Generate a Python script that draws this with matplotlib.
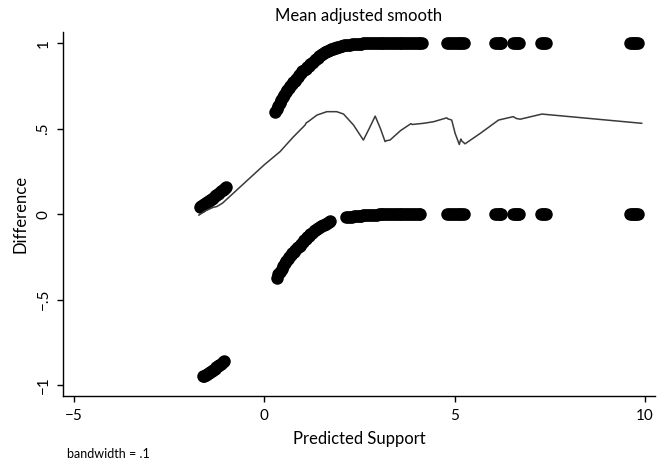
import numpy as np
import matplotlib
matplotlib.use('Agg')
import matplotlib.pyplot as plt

plt.rcParams['font.family'] = ['Lato', 'DejaVu Sans']

# Observaciones con Difference cerca de 1 (curva superior)
x_sup = [0.28, 0.32, 0.36, 0.40, 0.44, 0.48, 0.52, 0.56, 0.60, 0.64,
         0.68, 0.72, 0.76, 0.80, 0.84, 0.88, 0.92, 0.96, 1.00, 1.04,
         1.08, 1.12, 1.16, 1.20, 1.24, 1.28, 1.32, 1.36, 1.40, 1.44,
         1.48, 1.52, 1.56, 1.60, 1.64, 1.68, 1.72, 1.76, 1.80, 1.84,
         1.88, 1.92, 1.96, 2.00, 2.05, 2.10, 2.15, 2.20, 2.25, 2.30,
         2.35, 2.40, 2.45, 2.50, 2.55, 2.60, 2.65, 2.70, 2.75, 2.80,
         2.85, 2.90, 2.95, 3.00, 3.05, 3.10, 3.15, 3.20, 3.25, 3.30,
         3.35, 3.40, 3.45, 3.50, 3.55, 3.60, 3.65, 3.70, 3.75, 3.80,
         3.85, 3.90, 3.95, 4.00, 4.05, 4.10, 4.14,
         4.80, 4.85, 4.90, 4.95, 5.00, 5.05, 5.10, 5.15, 5.20, 5.25,
         6.07, 6.11, 6.15, 6.19, 6.22, 6.54, 6.58, 6.62, 6.66, 6.70,
         7.27, 7.31, 7.35, 7.39, 9.61, 9.65, 9.69, 9.73, 9.77, 9.81]
y_sup = [0.600, 0.617, 0.634, 0.651, 0.668, 0.683, 0.698, 0.713, 0.727, 0.740,
         0.751, 0.762, 0.772, 0.781, 0.790, 0.800, 0.812, 0.824, 0.835, 0.844,
         0.852, 0.860, 0.868, 0.876, 0.884, 0.892, 0.900, 0.908, 0.916, 0.923,
         0.929, 0.935, 0.941, 0.947, 0.952, 0.956, 0.960, 0.964, 0.968, 0.972,
         0.975, 0.978, 0.980, 0.983, 0.986, 0.988, 0.990, 0.991, 0.992, 0.994,
         0.995, 0.996, 0.997, 0.998, 0.998, 0.999, 0.999, 0.999, 1.0, 1.0,
         1.0, 1.0, 1.0, 1.0, 1.0, 1.0, 1.0, 1.0, 1.0, 1.0,
         1.0, 1.0, 1.0, 1.0, 1.0, 1.0, 1.0, 1.0, 1.0, 1.0,
         1.0, 1.0, 1.0, 1.0, 1.0, 1.0, 1.0,
         1.0, 1.0, 1.0, 1.0, 1.0, 1.0, 1.0, 1.0, 1.0, 1.0,
         1.0, 1.0, 1.0, 1.0, 1.0, 1.0, 1.0, 1.0, 1.0, 1.0,
         1.0, 1.0, 1.0, 1.0, 1.0, 1.0, 1.0, 1.0, 1.0, 1.0]

# Observaciones con Difference cerca de 0 (curva inferior)
x_inf = [0.33, 0.37, 0.41, 0.45, 0.49, 0.53, 0.57, 0.61, 0.65, 0.69,
         0.73, 0.77, 0.81, 0.85, 0.89, 0.93, 0.97, 1.01, 1.05, 1.09,
         1.13, 1.17, 1.21, 1.25, 1.29, 1.33, 1.37, 1.41, 1.45, 1.49,
         1.53, 1.57, 1.61, 1.65, 1.69, 1.72,
         2.15, 2.20, 2.25, 2.30, 2.35, 2.40, 2.45, 2.50, 2.55, 2.60,
         2.65, 2.70, 2.75, 2.80, 2.85, 2.90, 2.95, 3.00, 3.05, 3.10,
         3.15, 3.20, 3.25, 3.30, 3.35, 3.40, 3.45, 3.50, 3.55, 3.60,
         3.65, 3.70, 3.75, 3.80, 3.85, 3.90, 3.95, 4.00, 4.05, 4.10,
         4.80, 4.85, 4.90, 4.95, 5.00, 5.05, 5.10, 5.15, 5.20, 5.25,
         6.07, 6.11, 6.15, 6.19, 6.22, 6.54, 6.58, 6.62, 6.66, 6.70,
         7.27, 7.31, 7.35, 7.39, 9.61, 9.65, 9.69, 9.73, 9.77, 9.81]
y_inf = [-0.370, -0.352, -0.335, -0.318, -0.302, -0.287, -0.273, -0.260, -0.249, -0.238,
         -0.228, -0.218, -0.208, -0.199, -0.191, -0.183, -0.173, -0.163, -0.153, -0.143,
         -0.134, -0.125, -0.116, -0.108, -0.100, -0.094, -0.088, -0.082, -0.076, -0.070,
         -0.065, -0.060, -0.055, -0.050, -0.046, -0.042,
         -0.018, -0.016, -0.015, -0.014, -0.012, -0.011, -0.010, -0.009, -0.008, -0.007,
         -0.006, -0.005, -0.005, -0.004, -0.003, -0.003, -0.002, -0.001, 0.0, 0.0,
         0.0, 0.0, 0.0, 0.0, 0.0, 0.0, 0.0, 0.0, 0.0, 0.0,
         0.0, 0.0, 0.0, 0.0, 0.0, 0.0, 0.0, 0.0, 0.0, 0.0,
         0.0, 0.0, 0.0, 0.0, 0.0, 0.0, 0.0, 0.0, 0.0, 0.0,
         0.0, 0.0, 0.0, 0.0, 0.0, 0.0, 0.0, 0.0, 0.0, 0.0,
         0.0, 0.0, 0.0, 0.0, 0.0, 0.0, 0.0, 0.0, 0.0, 0.0]

# Grupo izquierdo
x_izq_sup = [-1.70, -1.66, -1.62, -1.58, -1.54, -1.50, -1.46, -1.42, -1.38, -1.34,
             -1.30, -1.26, -1.22, -1.18, -1.14, -1.10, -1.06, -1.03, -1.00]
y_izq_sup = [0.045, 0.050, 0.055, 0.060, 0.065, 0.071, 0.077, 0.083, 0.090, 0.097,
             0.105, 0.112, 0.120, 0.127, 0.135, 0.142, 0.150, 0.156, 0.162]
x_izq_inf = [-1.62, -1.58, -1.54, -1.50, -1.46, -1.42, -1.38, -1.34, -1.30, -1.26,
             -1.22, -1.18, -1.14, -1.10, -1.06]
y_izq_inf = [-0.948, -0.944, -0.939, -0.934, -0.928, -0.922, -0.916, -0.910, -0.903, -0.896,
             -0.889, -0.881, -0.874, -0.866, -0.858]

# Suavizado lowess (bandwidth = .1)
x_suave = [-1.72, -1.55, -1.35, -1.25, -1.10, -0.46, 0.00, 0.41, 0.75, 1.07,
           1.10, 1.14, 1.38, 1.64, 1.90, 2.08, 2.34, 2.60, 2.75, 2.91,
           3.05, 3.17, 3.20, 3.30, 3.58, 3.85, 3.88, 4.18, 4.44, 4.79,
           4.82, 4.92, 5.01, 5.12, 5.16, 5.18, 5.27, 5.67, 6.15, 6.54,
           6.58, 6.62, 6.72, 7.29, 9.91]
y_suave = [-0.005, 0.020, 0.040, 0.045, 0.065, 0.196, 0.290, 0.366, 0.450, 0.522,
           0.535, 0.540, 0.580, 0.600, 0.600, 0.586, 0.522, 0.434, 0.500, 0.574,
           0.500, 0.425, 0.430, 0.434, 0.490, 0.530, 0.525, 0.532, 0.541, 0.564,
           0.558, 0.551, 0.473, 0.408, 0.440, 0.430, 0.412, 0.473, 0.551, 0.571,
           0.565, 0.560, 0.556, 0.586, 0.532]

fig = plt.figure(figsize=(6.67, 4.63), dpi=100)
ax = fig.add_axes([63 / 667, 67 / 463, 592 / 667, 364 / 463])

ms = 9
for xs, ys in [(x_sup, y_sup), (x_inf, y_inf), (x_izq_sup, y_izq_sup), (x_izq_inf, y_izq_inf)]:
    ax.plot(xs, ys, 'o', color='black', markersize=ms, markeredgewidth=0)

ax.plot(x_suave, y_suave, '-', color='#3a3a3a', linewidth=1.1)

ax.set_xlim(-5.29, 10.26)
ax.set_ylim(-1.063, 1.066)
ax.set_xticks([-5, 0, 5, 10])
ax.set_xticklabels(['\u22125', '0', '5', '10'])
ax.set_yticks([-1, -0.5, 0, 0.5, 1])
ax.set_yticklabels(['\u22121', '\u2212.5', '0', '.5', '1'], rotation=90, va='center')

for side in ['top', 'right']:
    ax.spines[side].set_visible(False)
for side in ['left', 'bottom']:
    ax.spines[side].set_linewidth(1.0)
ax.tick_params(direction='out', length=4, width=1.0, labelsize=11, pad=5)

ax.set_xlabel('Predicted Support', fontsize=12, labelpad=6)
ax.set_ylabel('Difference', fontsize=12, labelpad=6)
ax.set_title('Mean adjusted smooth', fontsize=12, pad=8)
fig.text(67 / 667, 1 - 458 / 463, 'bandwidth = .1', fontsize=9, ha='left', va='baseline')

plt.savefig('out.png', dpi=100)
